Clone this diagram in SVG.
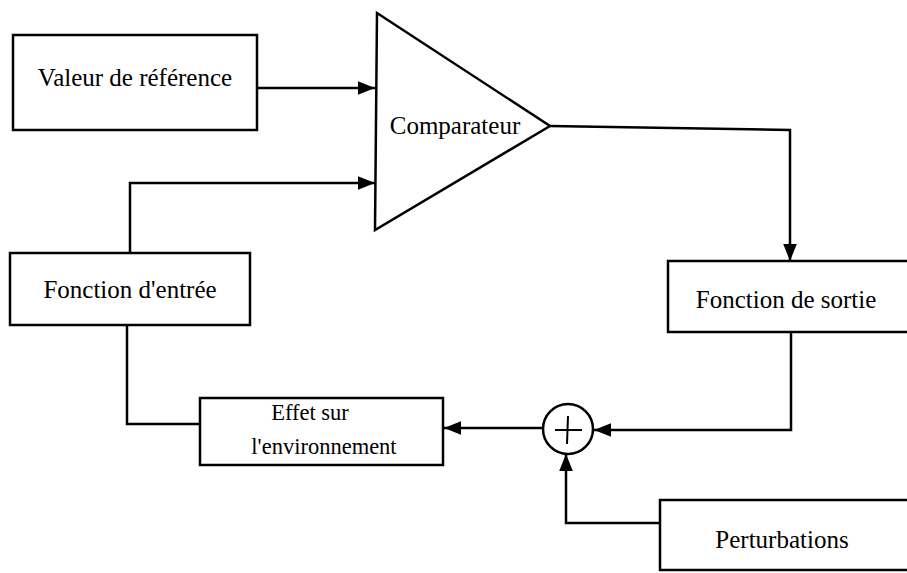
<svg xmlns="http://www.w3.org/2000/svg" width="907" height="573" viewBox="0 0 907 573">
<defs>
<style>
.box{fill:#fff;stroke:#000;stroke-width:2.5}
.lbl{font-family:"Liberation Serif","Times New Roman",serif;font-size:25px;fill:#000;text-anchor:middle}
.sm{font-size:22.5px}
.wire{fill:none;stroke:#000;stroke-width:2.5}
</style>
<marker id="ah" viewBox="0 0 10 10" refX="10" refY="5" markerWidth="17" markerHeight="17" markerUnits="userSpaceOnUse" orient="auto">
<path d="M0,1 L10,5 L0,9 z" fill="#000"/>
</marker>
</defs>
<rect width="907" height="573" fill="#fff"/>
<g id="connectors">
<path class="wire" d="M257,88 L375,88" marker-end="url(#ah)"/>
<path class="wire" d="M130,253 L130,183 L375,183" marker-end="url(#ah)"/>
<path class="wire" d="M550,126 L790,130 L790,261" marker-end="url(#ah)"/>
<path class="wire" d="M791,332 L791,430 L594,430" marker-end="url(#ah)"/>
<path class="wire" d="M543,428 L444,428" marker-end="url(#ah)"/>
<path class="wire" d="M127,325 L127,424 L200,424"/>
<path class="wire" d="M660,523 L566,523 L566,454" marker-end="url(#ah)"/>
</g>
<g id="valeur">
<rect class="box" x="13" y="35" width="244" height="95"/>
<text class="lbl" x="135" y="86">Valeur de référence</text>
</g>
<g id="comparateur">
<path class="box" d="M377,13 L375,230 L550,126 Z"/>
<text class="lbl" x="455" y="134">Comparateur</text>
</g>
<g id="sortie">
<rect class="box" x="668" y="261" width="250" height="71"/>
<text class="lbl" x="786" y="308">Fonction de sortie</text>
</g>
<g id="entree">
<rect class="box" x="10" y="253" width="240" height="72"/>
<text class="lbl" x="130" y="298">Fonction d'entrée</text>
</g>
<g id="effet">
<rect class="box" x="200" y="398" width="243" height="67"/>
<text class="lbl sm" x="310" y="420">Effet sur</text>
<text class="lbl sm" x="324" y="454">l'environnement</text>
</g>
<g id="somme">
<circle class="box" cx="568" cy="429" r="25"/>
<path class="wire" style="stroke-width:2" d="M555,430 L582,430 M568,416 L567,444"/>
</g>
<g id="perturbations">
<rect class="box" x="660" y="500" width="258" height="70"/>
<text class="lbl" x="782" y="548">Perturbations</text>
</g>
</svg>
